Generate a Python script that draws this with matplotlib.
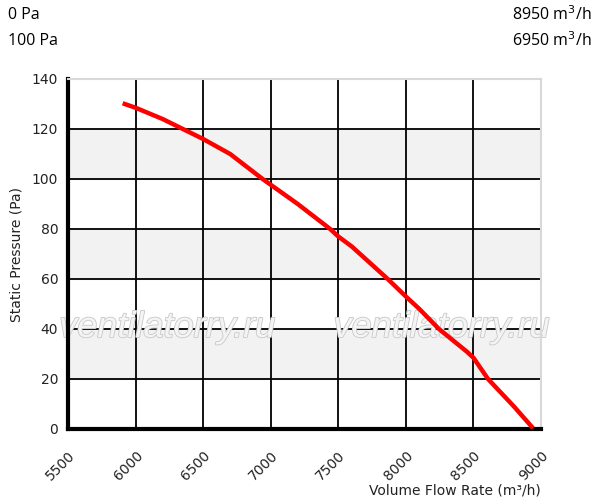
import matplotlib
matplotlib.use("Agg")
from matplotlib import pyplot as plt
import matplotlib.patheffects as pe

# характеристика вентилятора
flow = [5920, 6000, 6200, 6350, 6500, 6700, 6940, 7200, 7440, 7500, 7600,
        7866, 8000, 8100, 8245, 8450, 8500, 8608, 8800, 8930]
pressure = [130, 128.5, 124, 120, 116, 110, 100, 90, 80, 77, 73,
            60, 53, 48, 40, 31, 28.5, 20, 9, 1]

x_ticks = [5500, 6000, 6500, 7000, 7500, 8000, 8500, 9000]
y_ticks = [0, 20, 40, 60, 80, 100, 120, 140]
bands = [(20, 40), (60, 80), (100, 120)]

fig = plt.figure(figsize=(5.97, 5.01), dpi=100)
ax = fig.add_axes([68 / 597, 1 - 429 / 501, 473 / 597, 350 / 501])

for lo, hi in bands:
    ax.axhspan(lo, hi, color="#f2f2f2", zorder=0)

ax.set_xlim(5500, 9000)
ax.set_ylim(0, 140)
ax.set_xticks(x_ticks)
ax.set_yticks(y_ticks)
ax.grid(True, color="black", linewidth=1.3, zorder=1)
ax.set_axisbelow(True)

for spine in ["top", "right"]:
    ax.spines[spine].set_color("#d8d8d8")
    ax.spines[spine].set_linewidth(1.5)
for spine in ["left", "bottom"]:
    ax.spines[spine].set_color("black")
    ax.spines[spine].set_linewidth(3)

ax.tick_params(length=0, labelsize=10, colors="#222222")
ax.tick_params(axis="y", pad=7)
ax.tick_params(axis="x", pad=14)
for lbl in ax.get_xticklabels():
    lbl.set_rotation(45)
    lbl.set_ha("right")
    lbl.set_va("top")
    lbl.set_rotation_mode("anchor")

# водяной знак
for wx in [0.21, 0.79]:
    ax.text(wx, 0.29, "ventilatorry.ru", transform=ax.transAxes, fontsize=26,
            style="italic", family="Liberation Sans", color="#f4f4f4",
            ha="center", va="center", zorder=2,
            path_effects=[pe.withStroke(linewidth=1.2, foreground="#c8c8c8")])

ax.plot(flow, pressure, color="red", linewidth=3.2, zorder=3)

ax.set_ylabel("Static Pressure (Pa)", fontsize=10, color="#222222")
ax.yaxis.set_label_coords(-0.095, 0.5)
fig.text(541 / 597, 1 - 490 / 501, "Volume Flow Rate (m³/h)", fontsize=10,
         color="#222222", ha="right", va="center")

top_font = dict(fontsize=11.5, family="Open Sans", color="black")
fig.text(8 / 597, 1 - 15 / 501, "0 Pa", va="center", ha="left", **top_font)
fig.text(8 / 597, 1 - 41 / 501, "100 Pa", va="center", ha="left", **top_font)
fig.text(592 / 597, 1 - 15 / 501, "8950 m$^3$/h", va="center", ha="right", **top_font)
fig.text(592 / 597, 1 - 41 / 501, "6950 m$^3$/h", va="center", ha="right", **top_font)

fig.savefig("out.png", dpi=100)
